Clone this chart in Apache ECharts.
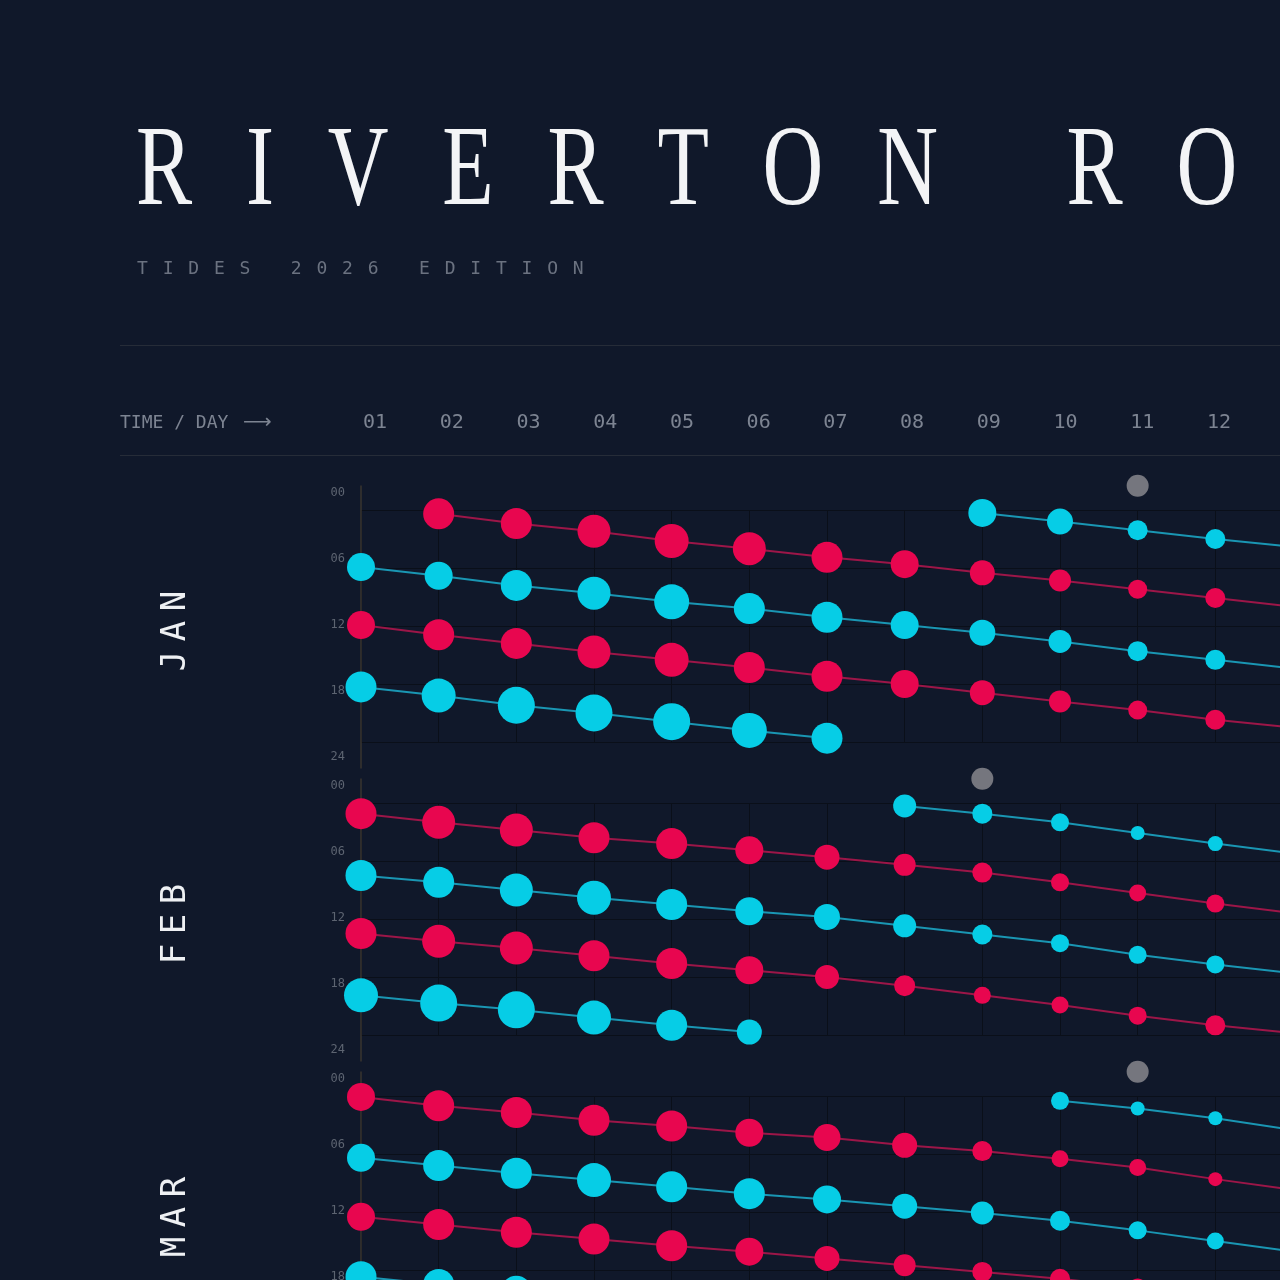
<!DOCTYPE html>
<html>
<head>
<meta charset="utf-8">
<script src="https://cdn.jsdelivr.net/npm/echarts@6/dist/echarts.min.js"></script>
<style>
  html, body { margin: 0; padding: 0; background: #10182a; overflow: hidden; }
  #chart { width: 1280px; height: 1280px; }
</style>
</head>
<body>
<div id="chart"></div>
<script>
// ---------------- DATA ----------------
// Each tide point: [day, hour of day, tide height (m)]
const TITLE = 'RIVERTON ROADS';
const SUBTITLE = 'TIDES 2026 EDITION';
const HEADER_LABEL = 'TIME / DAY';
const HEADER_ARROW = '\u27F6';
const MONTHS = ['JAN', 'FEB', 'MAR'];
const HOUR_LABELS = [0, 6, 12, 18, 24];
const MOON_DAYS = [11, 9, 11];   // grey marker per month

const JAN_HIGH_1 = [[2,0.4,3.1],[3,1.4,3.1],[4,2.2,3.3],[5,3.2,3.4],[6,4.0,3.3],[7,4.9,3.1],[8,5.6,2.8],[9,6.5,2.5],[10,7.3,2.2],[11,8.2,1.9],[12,9.1,2.0],[13,10.0,2.0]];
const JAN_LOW_1  = [[1,5.9,2.8],[2,6.8,2.8],[3,7.8,3.1],[4,8.6,3.3],[5,9.5,3.5],[6,10.2,3.1],[7,11.1,3.1],[8,11.9,2.8],[9,12.7,2.6],[10,13.6,2.3],[11,14.6,2.0],[12,15.5,2.0],[13,16.4,2.0]];
const JAN_HIGH_2 = [[1,11.9,2.8],[2,12.9,3.1],[3,13.8,3.1],[4,14.7,3.3],[5,15.5,3.4],[6,16.3,3.1],[7,17.2,3.1],[8,18.0,2.8],[9,18.9,2.5],[10,19.8,2.2],[11,20.7,1.9],[12,21.7,2.0],[13,22.5,2.0]];
const JAN_LOW_2  = [[1,18.3,3.1],[2,19.2,3.4],[3,20.2,3.7],[4,21.0,3.7],[5,21.9,3.7],[6,22.8,3.5],[7,23.6,3.1]];
const JAN_LOW_3  = [[9,0.3,2.8],[10,1.2,2.6],[11,2.1,2.0],[12,3.0,2.0],[13,3.8,2.0]];

const FEB_HIGH_1 = [[1,1.1,3.1],[2,2.0,3.3],[3,2.8,3.3],[4,3.6,3.1],[5,4.2,3.1],[6,4.9,2.8],[7,5.6,2.5],[8,6.4,2.2],[9,7.2,2.0],[10,8.2,1.8],[11,9.3,1.7],[12,10.4,1.8],[13,11.4,1.8]];
const FEB_LOW_1  = [[1,7.5,3.1],[2,8.2,3.1],[3,9.0,3.3],[4,9.8,3.4],[5,10.5,3.1],[6,11.2,2.8],[7,11.8,2.6],[8,12.7,2.3],[9,13.6,2.0],[10,14.5,1.8],[11,15.7,1.8],[12,16.7,1.8],[13,17.6,1.8]];
const FEB_HIGH_2 = [[1,13.5,3.1],[2,14.3,3.3],[3,15.0,3.3],[4,15.8,3.1],[5,16.6,3.1],[6,17.3,2.8],[7,18.0,2.4],[8,18.9,2.1],[9,19.9,1.7],[10,20.9,1.7],[11,22.0,1.8],[12,23.0,2.0],[13,23.8,2.0]];
const FEB_LOW_2  = [[1,19.9,3.4],[2,20.7,3.7],[3,21.4,3.7],[4,22.2,3.4],[5,23.0,3.1],[6,23.7,2.5]];
const FEB_LOW_3  = [[8,0.3,2.3],[9,1.1,2.0],[10,2.0,1.8],[11,3.1,1.4],[12,4.2,1.5],[13,5.2,1.5]];

const MAR_HIGH_1 = [[1,0.1,2.8],[2,1.0,3.1],[3,1.7,3.1],[4,2.5,3.1],[5,3.1,3.1],[6,3.8,2.8],[7,4.3,2.7],[8,5.1,2.5],[9,5.7,2.0],[10,6.5,1.7],[11,7.4,1.7],[12,8.6,1.4],[13,9.7,1.4]];
const MAR_LOW_1  = [[1,6.4,2.8],[2,7.2,3.1],[3,8.0,3.1],[4,8.7,3.4],[5,9.4,3.1],[6,10.1,3.1],[7,10.7,2.8],[8,11.4,2.5],[9,12.1,2.3],[10,12.9,2.0],[11,13.9,1.8],[12,15.0,1.7],[13,16.1,1.7]];
const MAR_HIGH_2 = [[1,12.5,2.8],[2,13.3,3.1],[3,14.1,3.1],[4,14.8,3.1],[5,15.5,3.1],[6,16.1,2.8],[7,16.8,2.5],[8,17.5,2.2],[9,18.2,2.0],[10,18.9,2.0],[11,19.8,1.8],[12,20.8,1.8],[13,21.7,1.8]];
const MAR_LOW_2  = [[1,18.7,3.1],[2,19.5,3.1],[3,20.2,3.1]];
const MAR_LOW_3  = [[10,0.5,1.8],[11,1.3,1.4],[12,2.3,1.4],[13,3.5,1.4]];

const MONTH_LINES = [
  [['high', JAN_HIGH_1], ['low', JAN_LOW_1], ['high', JAN_HIGH_2], ['low', JAN_LOW_2], ['low', JAN_LOW_3]],
  [['high', FEB_HIGH_1], ['low', FEB_LOW_1], ['high', FEB_HIGH_2], ['low', FEB_LOW_2], ['low', FEB_LOW_3]],
  [['high', MAR_HIGH_1], ['low', MAR_LOW_1], ['high', MAR_HIGH_2], ['low', MAR_LOW_2], ['low', MAR_LOW_3]]
];

// ---------------- STYLE / LAYOUT ----------------
const BG = '#10182a';
const MONO = '"DejaVu Sans Mono", monospace';
const SERIF = '"Liberation Serif", serif';
const COLORS = {
  high: { dot: '#e8064f', line: '#9c1648' },
  low:  { dot: '#06cde6', line: '#1a96b3' }
};
const MOON_COLOR = '#75767e';
const GRID_LINE = '#0a0f19';
const PANEL_PITCH = 293;
const DATA_TOP = 510, DATA_H = 232;
const LABEL_TOP = 486, LABEL_H = 282;
const GRID_LEFT = 361, GRID_W = 932;
const MOON_ROW = -2.5;
const pad2 = v => (v < 10 ? '0' : '') + Math.round(v);

const grids = [], xAxes = [], yAxes = [], series = [];
MONTHS.forEach((m, i) => {
  const off = i * PANEL_PITCH;
  grids.push({ left: GRID_LEFT, top: DATA_TOP + off, width: GRID_W, height: DATA_H, outerBoundsMode: 'none', containLabel: false });
  grids.push({ left: GRID_LEFT, top: LABEL_TOP + off, width: 10, height: LABEL_H, outerBoundsMode: 'none', containLabel: false });
  const gi = i * 2;
  xAxes.push({
    gridIndex: gi, type: 'value', min: 1, max: 13, interval: 1,
    axisLine: { show: false }, axisTick: { show: false }, axisLabel: { show: false },
    splitLine: { show: true, lineStyle: { color: GRID_LINE, width: 1 } }
  });
  yAxes.push({
    gridIndex: gi, type: 'value', inverse: true, min: 0, max: 24, interval: 6,
    axisLine: { show: false }, axisTick: { show: false }, axisLabel: { show: false },
    splitLine: { show: true, lineStyle: { color: GRID_LINE, width: 1 } }
  });
  xAxes.push({ gridIndex: gi + 1, type: 'value', show: false });
  yAxes.push({
    gridIndex: gi + 1, type: 'value', inverse: true, min: -7 / 11, max: 25,
    axisLine: { show: true, lineStyle: { color: '#38342f', width: 1.5 } },
    axisTick: { show: false }, splitLine: { show: false },
    axisLabel: {
      customValues: HOUR_LABELS, formatter: v => pad2(v), margin: 16,
      color: '#5d6471', fontSize: 12, fontFamily: MONO
    }
  });
  MONTH_LINES[i].forEach(([kind, data], k) => {
    series.push({
      name: m + ' ' + kind + ' ' + k, type: 'line',
      xAxisIndex: gi, yAxisIndex: gi,
      data: data,
      symbol: 'circle',
      symbolSize: v => v[2] * 10,
      showAllSymbol: true,
      itemStyle: { color: COLORS[kind].dot, opacity: 1 },
      lineStyle: { color: COLORS[kind].line, width: 2 },
      emphasis: { disabled: true },
      z: 3
    });
  });
  series.push({
    name: m + ' moon', type: 'scatter', xAxisIndex: gi, yAxisIndex: gi,
    clip: false, data: [[MOON_DAYS[i], MOON_ROW]],
    symbolSize: 22, itemStyle: { color: MOON_COLOR, opacity: 1 },
    emphasis: { disabled: true }, z: 3
  });
});

// header day axis (labels only)
grids.push({ left: 375, top: 440, width: 76.73 * 12, height: 1, outerBoundsMode: 'none', containLabel: false });
const HG = grids.length - 1;
xAxes.push({
  gridIndex: HG, type: 'value', min: 1, max: 13, interval: 1, position: 'top',
  axisLine: { show: false }, axisTick: { show: false }, splitLine: { show: false },
  axisLabel: {
    formatter: v => pad2(v), margin: 17, align: 'center', verticalAlign: 'middle',
    color: '#7d8492', fontSize: 20, fontFamily: MONO
  }
});
yAxes.push({ gridIndex: HG, type: 'value', show: false });

// ---------------- TEXT LAYOUT ----------------
const mctx = document.createElement('canvas').getContext('2d');
function layoutLetters(text, size, family, spacing) {
  mctx.font = size + 'px ' + family;
  let x = 0; const out = [];
  for (const ch of text) { out.push({ ch, x }); x += mctx.measureText(ch).width + spacing; }
  return { letters: out, width: x - spacing };
}
function letterGroup(text, size, family, spacing, fill, opts) {
  const lay = layoutLetters(text, size, family, spacing);
  const shift = opts.center ? -lay.width / 2 : 0;
  return Object.assign({
    type: 'group',
    children: lay.letters.filter(l => l.ch !== ' ').map(l => ({
      type: 'text', x: l.x + shift, y: 0,
      style: { text: l.ch, fill: fill, fontSize: size, fontFamily: family, align: 'left', verticalAlign: 'middle' }
    }))
  }, opts.group);
}

const graphics = [];
const TITLE_SIZE = 114;
const TITLE_SCALE = 0.738;
graphics.push(letterGroup(TITLE, TITLE_SIZE, SERIF, 53.8 / TITLE_SCALE, '#f3f4f6',
  { group: { x: 136, y: 174, scaleX: TITLE_SCALE } }));
graphics.push(letterGroup(SUBTITLE, 18, MONO, 14.8, '#6b7280', { group: { x: 137, y: 269 } }));
graphics.push({ type: 'line', shape: { x1: 120, y1: 345.5, x2: 1280, y2: 345.5 }, style: { stroke: '#262c38', lineWidth: 1 } });
graphics.push({ type: 'line', shape: { x1: 120, y1: 455.5, x2: 1280, y2: 455.5 }, style: { stroke: '#262c38', lineWidth: 1 } });
graphics.push({ type: 'text', x: 120, y: 423, style: { text: HEADER_LABEL, fill: '#7d8492', fontSize: 18, fontFamily: MONO, align: 'left', verticalAlign: 'middle' } });
graphics.push({ type: 'text', x: 243, y: 423, style: { text: HEADER_ARROW, fill: '#7d8492', fontSize: 20, fontFamily: '"DejaVu Sans", sans-serif', align: 'left', verticalAlign: 'middle' } });
MONTHS.forEach((m, i) => {
  graphics.push(letterGroup(m, 34, MONO, 9.5, '#eef0f3',
    { center: true, group: { x: 176, y: DATA_TOP + DATA_H / 2 + 5 + i * PANEL_PITCH, rotation: Math.PI / 2 } }));
});

const chart = echarts.init(document.getElementById('chart'), null, { renderer: 'canvas' });
chart.setOption({
  backgroundColor: BG,
  animation: false,
  grid: grids,
  xAxis: xAxes,
  yAxis: yAxes,
  series: series,
  graphic: { elements: graphics }
});
</script>
</body>
</html>
